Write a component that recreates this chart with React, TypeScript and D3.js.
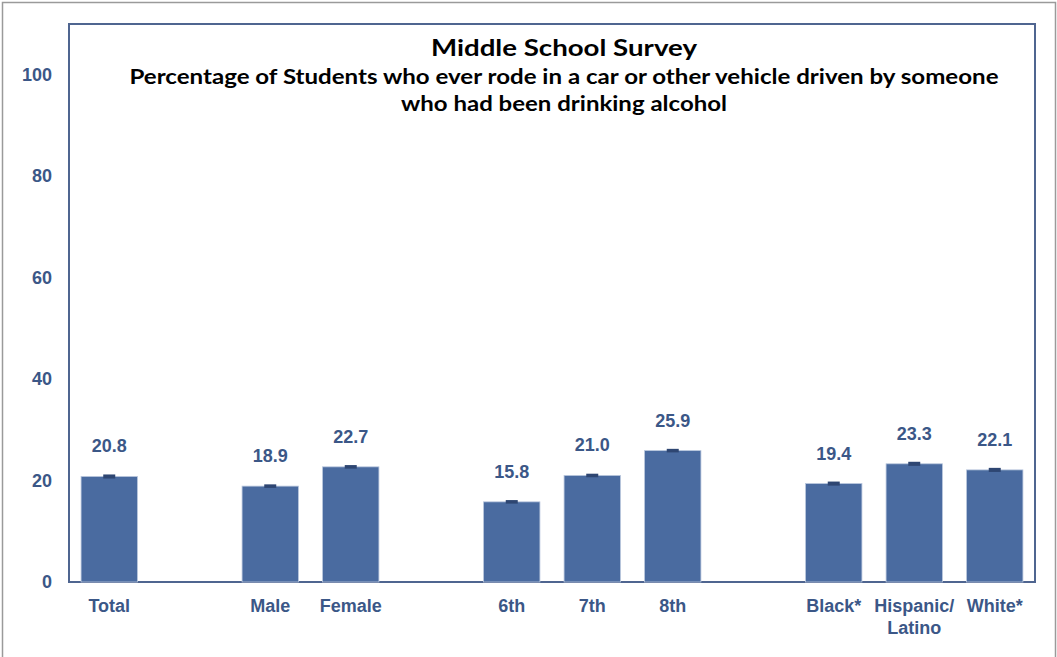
import React, { useRef, useEffect } from 'react';
import * as d3 from 'd3';

// slots: blank strings are gaps between groups
const categories = ['Total', '', 'Male', 'Female', ' ', '6th', '7th', '8th', '  ', 'Black*', 'Hispanic/\nLatino', 'White*'];
const values: (number | null)[] = [20.8, null, 18.9, 22.7, null, 15.8, 21.0, 25.9, null, 19.4, 23.3, 22.1];
const ci: (number | null)[] = [0.4, null, 0.35, 0.35, null, 0.35, 0.35, 0.35, null, 0.4, 0.4, 0.4];
const yTicks = [0, 20, 40, 60, 80, 100];
const title = 'Middle School Survey';
const subtitle = [
    'Percentage of Students who ever rode in a car or other vehicle driven by someone',
    'who had been drinking alcohol',
];

function App() {
    const svgRef = useRef<SVGSVGElement | null>(null);

    useEffect(() => {
        document.body.style.margin = '0';
        if (!svgRef.current) return;
        const svg = d3.select(svgRef.current);
        svg.selectAll('*').remove();

        const width = 1057;
        const height = 657;
        const left = 69, right = 1035, top = 24, bottom = 582;
        const barColor = '#4A6BA0';
        const textColor = '#3B5787';
        const labelFont = 'Liberation Sans, Arial, sans-serif';

        // outer frame
        svg.append('rect')
            .attr('x', 2.5).attr('y', 2.5)
            .attr('width', width - 4).attr('height', height + 10)
            .attr('fill', 'white').attr('stroke', '#9a9a9a').attr('stroke-width', 1.5);

        const x = d3.scaleBand<string>()
            .domain(categories)
            .range([left, right])
            .paddingInner(0.3)
            .paddingOuter(0.15);

        const y = d3.scaleLinear().domain([0, 110]).range([bottom, top]);

        // plot box
        svg.append('rect')
            .attr('x', left).attr('y', top)
            .attr('width', right - left).attr('height', bottom - top)
            .attr('fill', 'none').attr('stroke', '#4F6590').attr('stroke-width', 2);

        // y tick labels
        svg.append('g')
            .selectAll('text')
            .data(yTicks)
            .join('text')
            .attr('x', 52)
            .attr('y', d => y(d))
            .attr('dy', '0.35em')
            .attr('text-anchor', 'end')
            .attr('font-family', labelFont)
            .attr('font-weight', 'bold')
            .attr('font-size', 18)
            .attr('fill', textColor)
            .text(d => d);

        const data = categories.map((c, i) => ({ c, v: values[i], e: ci[i] })).filter(d => d.v !== null) as { c: string; v: number; e: number }[];

        // bars
        svg.append('g')
            .selectAll('rect')
            .data(data)
            .join('rect')
            .attr('x', d => x(d.c)!)
            .attr('y', d => y(d.v))
            .attr('width', x.bandwidth())
            .attr('height', d => y(0) - y(d.v))
            .attr('fill', barColor)
            .attr('stroke', '#B8C6DD')
            .attr('stroke-width', 0.8);

        // error marks
        svg.append('g')
            .selectAll('rect')
            .data(data)
            .join('rect')
            .attr('x', d => x(d.c)! + x.bandwidth() / 2 - 6)
            .attr('y', d => y(d.v + d.e))
            .attr('width', 12)
            .attr('height', d => Math.max(3, y(d.v - d.e) - y(d.v + d.e)))
            .attr('fill', '#2E4672');

        // value labels
        svg.append('g')
            .selectAll('text')
            .data(data)
            .join('text')
            .attr('x', d => x(d.c)! + x.bandwidth() / 2)
            .attr('y', d => y(d.v) - 24)
            .attr('text-anchor', 'middle')
            .attr('font-family', labelFont)
            .attr('font-weight', 'bold')
            .attr('font-size', 18)
            .attr('fill', textColor)
            .text(d => d.v.toFixed(1));

        // category labels
        const cat = svg.append('g')
            .selectAll('text')
            .data(data)
            .join('text')
            .attr('text-anchor', 'middle')
            .attr('font-family', labelFont)
            .attr('font-weight', 'bold')
            .attr('font-size', 18)
            .attr('fill', textColor);
        cat.selectAll('tspan')
            .data(d => d.c.split('\n').map(t => ({ t, cx: x(d.c)! + x.bandwidth() / 2 })))
            .join('tspan')
            .attr('x', d => d.cx)
            .attr('y', (_, i) => 612 + i * 22)
            .text(d => d.t);

        // titles
        const cx = (left + right) / 2 + 12;
        svg.append('text')
            .attr('x', cx).attr('y', 56)
            .attr('text-anchor', 'middle')
            .attr('font-family', 'Lato, sans-serif')
            .attr('font-weight', 'bold')
            .attr('font-size', 23)
            .attr('textLength', 266)
            .attr('lengthAdjust', 'spacingAndGlyphs')
            .attr('fill', '#000')
            .text(title);

        const subLens = [869, 326];
        svg.append('g')
            .selectAll('text')
            .data(subtitle)
            .join('text')
            .attr('x', cx)
            .attr('y', (_, i) => 84 + i * 27)
            .attr('text-anchor', 'middle')
            .attr('font-family', 'Lato, sans-serif')
            .attr('font-weight', 'bold')
            .attr('font-size', 20)
            .attr('textLength', (_, i) => subLens[i])
            .attr('lengthAdjust', 'spacingAndGlyphs')
            .attr('fill', '#000')
            .text(d => d);
    }, []);

    return (
        <div>
            <svg ref={svgRef} width={1057} height={657} style={{ display: 'block' }}></svg>
        </div>
    );
}

export default App;
